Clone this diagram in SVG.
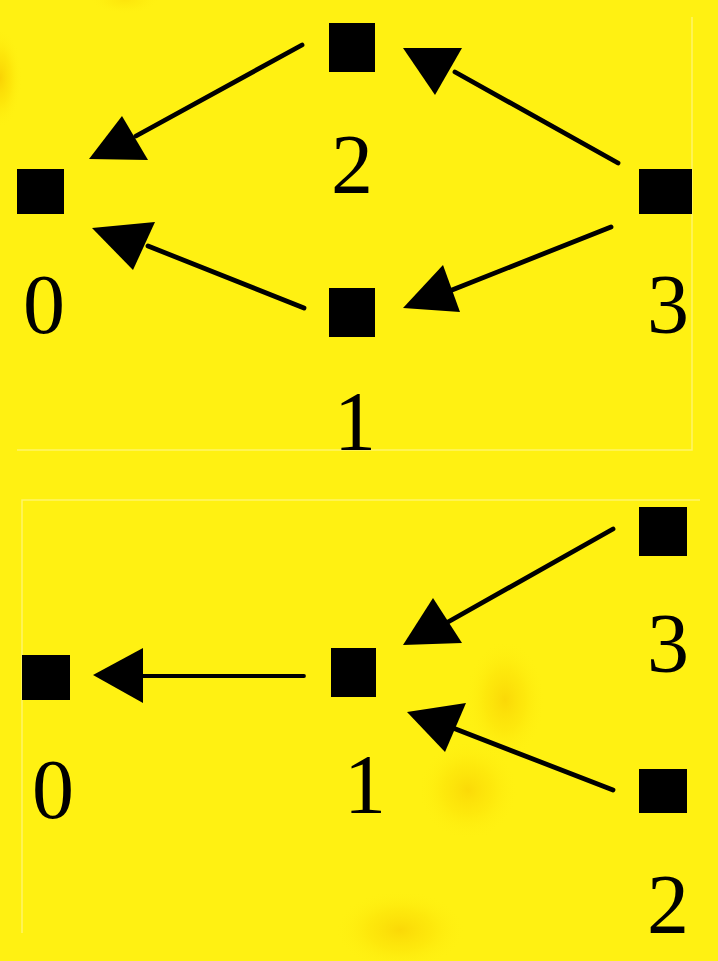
<svg xmlns="http://www.w3.org/2000/svg" width="718" height="961" viewBox="0 0 718 961">
<style>
.node{fill:#000}
.lbl{font-family:"Liberation Serif","Times New Roman",serif;font-size:84px;fill:#000;text-anchor:middle}
.edge{stroke:#000;stroke-width:4.8;fill:none;stroke-linecap:round}
.head{fill:#000}
.frame{stroke:#FFF56A;stroke-width:1.5;fill:none}
</style>
<defs>
<radialGradient id="sm">
<stop offset="0" stop-color="#F7C800" stop-opacity="0.75"/>
<stop offset="0.5" stop-color="#FAD600" stop-opacity="0.4"/>
<stop offset="1" stop-color="#FFF112" stop-opacity="0"/>
</radialGradient>
</defs>
<rect width="718" height="961" fill="#FFF112"/>
<g id="smudges">
<ellipse cx="0" cy="78" rx="22" ry="50" fill="url(#sm)"/>
<ellipse cx="125" cy="0" rx="35" ry="14" fill="url(#sm)" opacity="0.4"/>
<ellipse cx="505" cy="700" rx="40" ry="60" fill="url(#sm)" opacity="0.8"/>
<ellipse cx="468" cy="790" rx="50" ry="50" fill="url(#sm)" opacity="0.75"/>
<ellipse cx="400" cy="930" rx="65" ry="40" fill="url(#sm)" opacity="0.8"/>
</g>
<g id="frames">
<path class="frame" d="M692,17 V450 H17"/>
<path class="frame" d="M22,933 V500 H700"/>
</g>
<g id="connectors">
<line class="edge" x1="302" y1="45" x2="136" y2="136"/>
<polygon class="head" points="89,159 148,160 122,116"/>
<line class="edge" x1="304" y1="308" x2="148" y2="246"/>
<polygon class="head" points="92,228 155,222 133,270"/>
<line class="edge" x1="618" y1="163" x2="455" y2="72"/>
<polygon class="head" points="403,48 462,48 435,95"/>
<line class="edge" x1="611" y1="227" x2="452" y2="290"/>
<polygon class="head" points="443,265 403,308 460,312"/>
<line class="edge" x1="304" y1="676" x2="140" y2="676" style="stroke-width:3.8"/>
<polygon class="head" points="93,675 143,648 143,703"/>
<line class="edge" x1="613" y1="529" x2="448" y2="622"/>
<polygon class="head" points="433,598 403,645 462,643"/>
<line class="edge" x1="613" y1="790" x2="453" y2="728"/>
<polygon class="head" points="407,712 466,703 445,752"/>
</g>
<g id="t0">
<rect class="node" x="17" y="169" width="47" height="45"/>
<text class="lbl" x="44" y="333">0</text>
</g>
<g id="t2">
<rect class="node" x="329" y="23" width="46" height="49"/>
<text class="lbl" x="352" y="193">2</text>
</g>
<g id="t1">
<rect class="node" x="329" y="288" width="46" height="49"/>
<text class="lbl" x="355" y="450">1</text>
</g>
<g id="t3">
<rect class="node" x="639" y="169" width="53" height="45"/>
<text class="lbl" x="668" y="333">3</text>
</g>
<g id="b0">
<rect class="node" x="22" y="655" width="48" height="45"/>
<text class="lbl" x="53" y="818">0</text>
</g>
<g id="b1">
<rect class="node" x="331" y="648" width="45" height="49"/>
<text class="lbl" x="365" y="813">1</text>
</g>
<g id="b3">
<rect class="node" x="639" y="507" width="48" height="49"/>
<text class="lbl" x="668" y="672">3</text>
</g>
<g id="b2">
<rect class="node" x="639" y="769" width="48" height="44"/>
<text class="lbl" x="668" y="933">2</text>
</g>
</svg>
